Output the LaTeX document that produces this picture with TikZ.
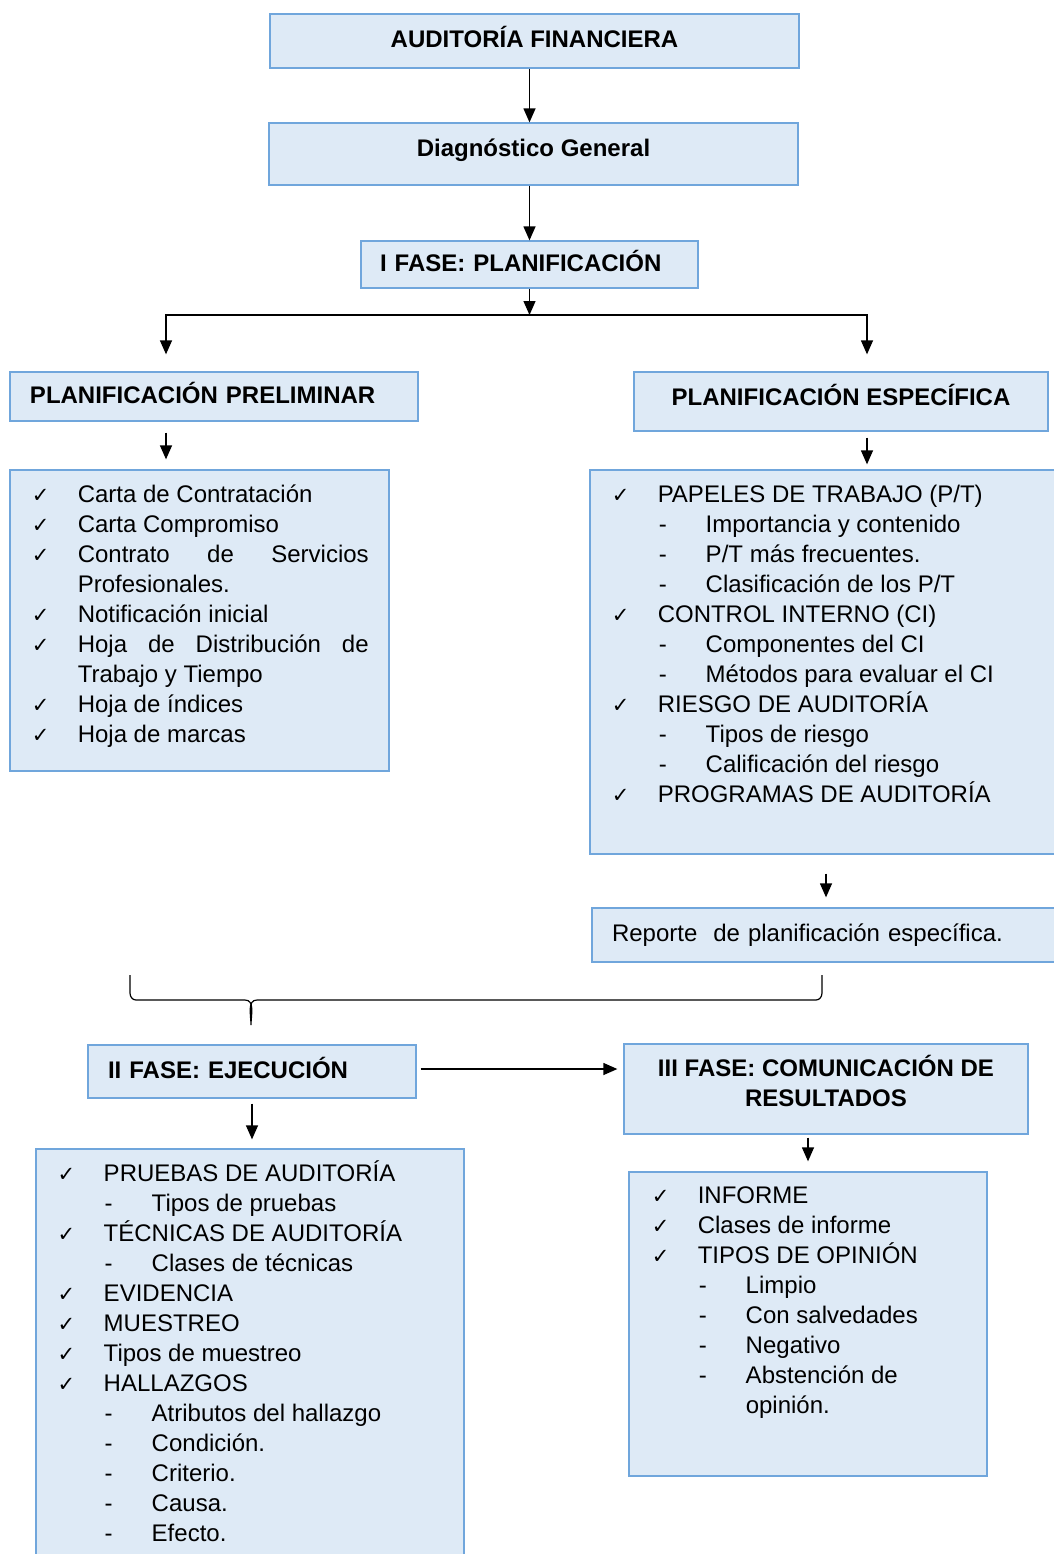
\documentclass[tikz,border=0pt]{standalone}
\usepackage{fontspec}
\setmainfont{Liberation Sans}
\newfontfamily\ckfont{DejaVu Sans}
\usetikzlibrary{arrows.meta}

\definecolor{boxfill}{RGB}{222,234,246}
\definecolor{boxline}{RGB}{112,166,220}

\newcommand\ck{\makebox[23pt][l]{\ckfont\fontsize{10.5}{10.5}\selectfont ✓}}
\newcommand\ckpad{\hspace*{23pt}}
\newcommand\dsh{\hspace*{23.5pt}\makebox[23.5pt][l]{-}}

\tikzset{
  box/.style={
    draw=boxline, fill=boxfill, line width=0.65pt, inner sep=0pt,
    text height=9pt, text depth=2.5pt,
    font=\fontsize{12}{15}\selectfont\bfseries
  },
  plainbox/.style={
    draw=boxline, fill=boxfill, line width=0.65pt, inner sep=0pt
  },
  listtxt/.style={
    anchor=north west, inner sep=0pt, align=left,
    font=\fontsize{12}{15}\selectfont,
    execute at begin node=\rule{0pt}{13pt}
  },
  arr/.style={-{Triangle[length=7pt,width=6pt]}, line width=0.65pt}
}

\begin{document}
\begin{tikzpicture}[x=0.5pt, y=-0.5pt]
\useasboundingbox (0,0) rectangle (1054,1554);

% headings
\node[box, minimum width=264.5pt, minimum height=27pt] (audit) at (534.5,41) {AUDITORÍA FINANCIERA};
\node[box, minimum width=264.5pt, minimum height=31pt, text depth=7pt] (diag) at (533.5,154) {Diagnóstico General};
\node[box, inner xsep=9.5pt, text width=149.5pt, align=left, minimum height=23.5pt] (fase1) at (529.5,264.5) {I FASE: PLANIFICACIÓN};
\node[box, inner xsep=10pt, text width=184pt, align=left, minimum height=24.5pt] (prelim) at (214,396.5) {PLANIFICACIÓN PRELIMINAR};
\node[box, minimum width=207pt, minimum height=29.5pt, text depth=5.5pt] (especif) at (841,401.5) {PLANIFICACIÓN ESPECÍFICA};

% lists of phase I
\node[plainbox, minimum width=189.5pt, minimum height=150.5pt] (prelimlist) at (199.5,620.5) {};
\node[listtxt] (prelimtxt) at ([shift={(22,15)}]prelimlist.north west) {%
\ck Carta de Contratación\\
\ck Carta Compromiso\\
\ck \makebox[145.5pt][s]{Contrato de Servicios}\\
\ckpad Profesionales.\\
\ck Notificación inicial\\
\ck \makebox[145.5pt][s]{Hoja de Distribución de}\\
\ckpad Trabajo y Tiempo\\
\ck Hoja de índices\\
\ck Hoja de marcas};

\node[plainbox, minimum width=235pt, minimum height=192pt] (especlist) at (825,662) {};
\node[listtxt] (espectxt) at ([shift={(22,15)}]especlist.north west) {%
\ck PAPELES DE TRABAJO (P/T)\\
\dsh Importancia y contenido\\
\dsh P/T más frecuentes.\\
\dsh Clasificación de los P/T\\
\ck CONTROL INTERNO (CI)\\
\dsh Componentes del CI\\
\dsh Métodos para evaluar el CI\\
\ck RIESGO DE AUDITORÍA\\
\dsh Tipos de riesgo\\
\dsh Calificación del riesgo\\
\ck PROGRAMAS DE AUDITORÍA};

\node[box, font=\fontsize{12}{15}\selectfont, inner xsep=10pt, text width=214pt, align=left, minimum height=27pt] (reporte) at (826,935) {Reporte\ \ de planificación específica.};

% phases II and III
\node[box, inner xsep=10pt, text width=144pt, align=left, minimum height=26.5pt] (fase2) at (252,1071.5) {II FASE: EJECUCIÓN};
\node[box, align=center, minimum width=202pt, minimum height=45pt, text height=25pt, text depth=7.4pt] (fase3) at (826,1089) {III FASE: COMUNICACIÓN DE\\RESULTADOS};

\node[plainbox, minimum width=214pt, minimum height=207.5pt] (ejeclist) at (250,1356.5) {};
\node[listtxt] (ejectxt) at ([shift={(22,12)}]ejeclist.north west) {%
\ck PRUEBAS DE AUDITORÍA\\
\dsh Tipos de pruebas\\
\ck TÉCNICAS DE AUDITORÍA\\
\dsh Clases de técnicas\\
\ck EVIDENCIA\\
\ck MUESTREO\\
\ck Tipos de muestreo\\
\ck HALLAZGOS\\
\dsh Atributos del hallazgo\\
\dsh Condición.\\
\dsh Criterio.\\
\dsh Causa.\\
\dsh Efecto.};

\node[plainbox, minimum width=179pt, minimum height=152pt] (comlist) at (808,1324) {};
\node[listtxt] (comtxt) at ([shift={(23,15)}]comlist.north west) {%
\ck INFORME\\
\ck Clases de informe\\
\ck TIPOS DE OPINIÓN\\
\dsh Limpio\\
\dsh Con salvedades\\
\dsh Negativo\\
\dsh Abstención de\\
\hspace*{47pt}opinión.};

% connectors
\coordinate (split) at (529.5,315);
\coordinate (lcol) at (166,0);
\coordinate (rcol) at (867,0);
\coordinate (bracel) at (130,975);
\coordinate (bracer) at (822,975);

\draw[arr] (audit.south -| fase1) -- (diag.north -| fase1);
\draw[arr] (diag.south -| fase1) -- (fase1.north);
\draw[arr] (fase1.south) -- (split);
\draw[arr, shorten >=8.5pt] (split) -| (prelim.north -| lcol);
\draw[arr, shorten >=8.5pt] (split) -| (especif.north -| rcol);
\draw[arr, shorten <=5.5pt, shorten >=5pt] (prelim.south -| lcol) -- (prelimlist.north -| lcol);
\draw[arr, shorten <=3pt, shorten >=2.5pt] (especif.south -| rcol) -- (especlist.north -| rcol);
\draw[arr, shorten <=9.5pt, shorten >=5pt] (especlist.south -| reporte) -- (reporte.north);

% brace
\draw[line width=0.6pt] (bracel) -- ++(0,18) to[out=-90,in=180] ++(6,7) -- (245,1000)
  to[out=0,in=90] (251,1025) to[out=90,in=180] (257,1000) -- (816,1000)
  to[out=0,in=-90] ++(6,-7) -- (bracer);

\draw[arr, shorten <=2pt, shorten >=3pt] ([yshift=1.25pt]fase2.east) -- ([yshift=1.25pt]fase3.west |- fase2.east);
\draw[arr, shorten <=2.5pt, shorten >=4.5pt] (fase2.south) -- (ejeclist.north -| fase2);
\draw[arr, shorten <=1.5pt, shorten >=5pt] (fase3.south -| comlist) -- (comlist.north);
\end{tikzpicture}
\end{document}
